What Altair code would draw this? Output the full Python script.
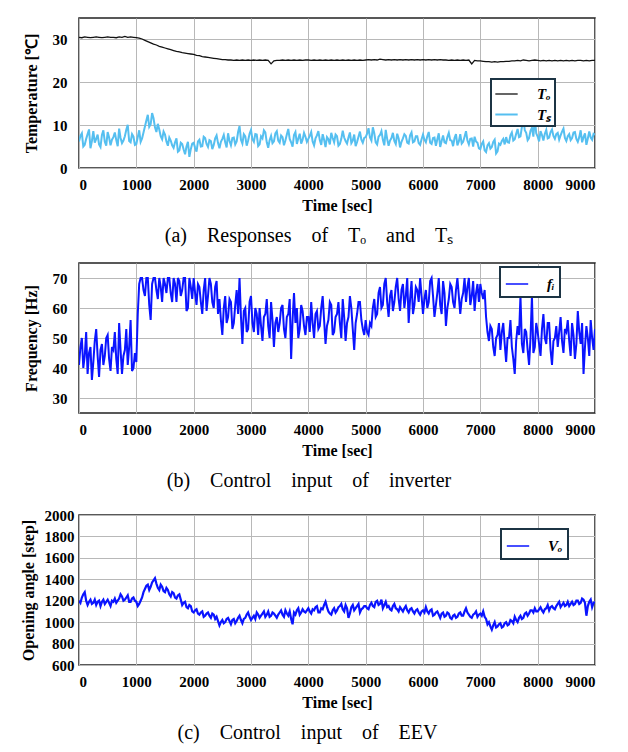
import altair as alt
import pandas as pd

# To is sampled every 50 s, the other three every 25 s
time_slow = list(range(0, 9001, 50))
time_fast = list(range(0, 9001, 25))

to_vals = [
    30.5, 30.4, 30.6, 30.5, 30.4, 30.5, 30.6, 30.5, 30.4, 30.5, 30.6, 30.5, 30.5, 30.4, 30.6, 30.5, 30.7, 30.5, 30.6, 30.5,
    30.4, 30.3, 30.1, 29.8, 29.5, 29.2, 28.9, 28.7, 28.4, 28.2, 28.0, 27.8, 27.6, 27.4, 27.2, 27.1, 26.9, 26.8, 26.7, 26.6,
    26.5, 26.3, 26.2, 26.0, 25.9, 25.8, 25.7, 25.6, 25.5, 25.4, 25.3, 25.3, 25.2, 25.2, 25.1, 25.2, 25.1, 25.2, 25.1, 25.2,
    25.1, 25.2, 25.1, 25.2, 25.1, 25.2, 25.1, 24.3, 25.0, 25.1, 25.1, 25.2, 25.1, 25.2, 25.1, 25.2, 25.1, 25.2, 25.1, 25.2,
    25.2, 25.1, 25.2, 25.1, 25.2, 25.1, 25.2, 25.1, 25.2, 25.1, 25.2, 25.1, 25.2, 25.1, 25.2, 25.1, 25.2, 25.1, 25.2, 25.1,
    25.2, 25.3, 25.2, 25.3, 25.2, 25.4, 25.3, 25.2, 25.3, 25.2, 25.3, 25.2, 25.3, 25.2, 25.3, 25.2, 25.3, 25.2, 25.3, 25.2,
    25.3, 25.2, 25.3, 25.2, 25.3, 25.2, 25.3, 25.2, 25.2, 25.1, 25.2, 25.1, 25.2, 25.1, 25.2, 25.1, 25.2, 24.3, 25.1, 25.0,
    25.0, 24.9, 24.8, 24.8, 24.7, 24.8, 24.7, 24.8, 24.8, 24.9, 24.9, 25.0, 25.0, 25.1, 25.0, 25.2, 25.1, 25.0, 25.1, 25.2,
    25.1, 25.0, 25.1, 25.0, 25.1, 25.0, 25.1, 25.0, 25.1, 25.0, 25.1, 25.0, 25.1, 25.0, 25.1, 25.1, 25.0, 25.1, 25.0, 25.1,
    25.1,
]

ts_vals = [
    6.2, 7.5, 8.1, 5.0, 5.4, 6.8, 7.9, 9.0, 4.6, 6.3, 8.6, 5.9, 6.8, 7.8, 5.5, 4.9, 7.7, 8.8, 6.1, 5.2,
    8.4, 7.1, 5.3, 6.6, 7.2, 8.3, 6.5, 5.1, 9.2, 7.0, 5.8, 6.4, 7.4, 8.9, 10.1, 6.3, 6.0, 7.9, 7.3, 5.4,
    5.6, 7.2, 8.8, 6.1, 6.9, 8.3, 9.7, 11.1, 12.4, 9.6, 10.2, 12.8, 11.6, 9.5, 8.4, 10.3, 9.0, 7.4, 6.7, 8.5,
    7.8, 6.2, 5.2, 7.1, 6.4, 5.3, 4.7, 6.0, 6.9, 3.8, 4.1, 5.9, 5.6, 4.3, 3.2, 5.0, 6.1, 2.6, 4.4, 5.7,
    5.9, 4.7, 3.8, 6.2, 6.6, 5.0, 5.1, 7.3, 7.0, 5.6, 4.9, 6.5, 6.3, 4.4, 5.4, 6.9, 7.6, 5.8, 4.6, 6.1,
    6.8, 7.7, 6.0, 4.8, 8.1, 6.3, 5.3, 7.0, 7.1, 5.5, 6.2, 8.4, 9.8, 6.6, 5.7, 7.9, 7.4, 5.2, 6.4, 8.0,
    8.9, 6.7, 6.1, 7.9, 7.8, 5.1, 5.5, 7.4, 6.9, 8.8, 8.3, 6.0, 4.7, 6.5, 7.5, 5.8, 6.2, 8.1, 8.6, 6.4,
    5.9, 7.6, 7.2, 5.3, 6.4, 7.8, 9.1, 6.8, 6.0, 5.0, 7.7, 8.4, 5.6, 6.9, 8.0, 5.7, 6.6, 8.2, 7.3, 6.1,
    6.8, 7.5, 8.4, 6.2, 5.3, 6.9, 7.6, 8.6, 6.5, 5.4, 7.9, 6.6, 4.9, 7.2, 6.7, 5.5, 8.2, 7.0, 6.0, 7.8,
    7.4, 5.2, 5.6, 6.8, 8.7, 7.1, 6.3, 5.7, 7.1, 8.3, 5.8, 6.4, 7.8, 5.1, 6.1, 7.3, 8.5, 6.6, 5.9, 7.0,
    7.2, 8.0, 9.3, 7.1, 6.4, 9.5, 8.1, 6.0, 5.5, 7.3, 7.7, 8.6, 6.6, 5.3, 8.9, 6.8, 5.2, 6.4, 7.0, 8.2,
    6.3, 5.6, 8.0, 6.9, 4.8, 6.1, 6.9, 7.9, 7.5, 5.9, 5.7, 7.6, 8.3, 6.0, 6.2, 7.4, 7.4, 5.8, 5.4, 6.7,
    7.8, 6.6, 6.0, 7.4, 8.4, 5.9, 5.6, 7.0, 7.1, 5.2, 6.7, 8.1, 4.9, 6.3, 7.6, 6.0, 5.8, 7.2, 8.2, 6.5,
    6.4, 5.1, 7.0, 7.9, 5.3, 6.2, 7.9, 5.7, 6.1, 7.3, 8.6, 6.4, 5.5, 6.8, 6.9, 5.0, 7.3, 6.2, 5.9, 4.6,
    4.4, 5.6, 6.2, 4.1, 3.7, 5.3, 5.8, 4.5, 4.9, 6.1, 6.6, 3.4, 3.9, 5.7, 5.4, 6.3, 6.8, 5.5, 7.2, 6.0,
    5.9, 7.6, 8.3, 6.4, 6.7, 8.0, 9.1, 7.2, 7.4, 9.6, 11.9, 8.8, 8.2, 6.5, 7.0, 8.7, 9.4, 7.3, 11.6, 8.1,
    7.3, 6.2, 8.6, 7.7, 6.4, 8.0, 8.9, 6.9, 7.1, 8.4, 9.0, 7.5, 6.8, 7.9, 8.2, 6.6, 7.6, 8.5, 9.2, 7.0,
    6.3, 7.4, 7.9, 6.5, 7.0, 8.3, 8.4, 6.8, 6.1, 7.2, 8.8, 6.0, 7.2, 8.1, 5.4, 6.9, 8.5, 7.1, 6.6, 8.0,
    7.8,
]

fi_vals = [
    41, 47, 50, 40, 44, 52, 38, 45, 47, 36, 42, 49, 53, 44, 37, 46, 48, 41, 44, 50,
    51, 43, 39, 47, 46, 52, 43, 38, 55, 46, 38, 44, 46, 53, 41, 47, 56, 39, 40, 45,
    42, 58, 68, 70, 70, 66, 64, 70, 70, 61, 56, 68, 70, 70, 66, 63, 70, 67, 62, 70,
    68, 65, 70, 70, 65, 62, 70, 68, 62, 70, 69, 64, 66, 70, 70, 59, 60, 70, 67, 63,
    70, 65, 61, 68, 67, 62, 58, 66, 70, 59, 64, 70, 68, 62, 60, 67, 69, 58, 63, 56,
    51, 60, 64, 55, 57, 63, 62, 53, 55, 61, 66, 58, 70, 57, 48, 59, 60, 52, 53, 62,
    64, 55, 52, 60, 58, 51, 60, 54, 49, 57, 58, 63, 54, 50, 62, 56, 47, 55, 57, 52,
    55, 60, 61, 53, 50, 57, 58, 63, 43, 56, 65, 55, 60, 50, 53, 61, 59, 54, 51, 57,
    57, 52, 62, 55, 50, 58, 59, 53, 54, 60, 64, 56, 48, 54, 56, 62, 61, 51, 52, 57,
    58, 62, 55, 50, 63, 57, 49, 55, 57, 64, 60, 53, 46, 55, 58, 62, 62, 56, 53, 51,
    56, 52, 51, 55, 54, 60, 63, 57, 58, 65, 67, 60, 61, 68, 70, 62, 57, 64, 66, 59,
    62, 67, 70, 63, 59, 66, 68, 60, 64, 70, 55, 63, 69, 58, 61, 67, 66, 62, 70, 64,
    58, 63, 66, 60, 62, 69, 70, 64, 57, 61, 65, 70, 61, 58, 69, 65, 54, 60, 63, 68,
    67, 62, 60, 66, 70, 64, 58, 63, 65, 70, 62, 67, 70, 61, 64, 69, 59, 65, 68, 62,
    68, 65, 63, 66, 57, 52, 49, 54, 53, 47, 44, 50, 51, 55, 46, 52, 55, 48, 42, 50,
    50, 56, 47, 43, 38, 49, 54, 51, 64, 48, 45, 53, 52, 46, 41, 50, 64, 45, 47, 55,
    52, 48, 44, 53, 58, 50, 48, 55, 55, 46, 41, 49, 50, 54, 47, 52, 57, 49, 45, 53,
    52, 56, 49, 44, 55, 51, 43, 48, 59, 52, 48, 55, 38, 47, 54, 50, 44, 56, 50, 46,
    53,
]

vo_vals = [
    1200, 1180, 1230, 1260, 1280, 1200, 1160, 1190, 1210, 1170, 1180, 1210, 1160, 1190, 1200, 1150, 1190, 1210, 1170, 1190,
    1210, 1180, 1150, 1200, 1190, 1220, 1180, 1200, 1220, 1260, 1240, 1200, 1210, 1230, 1250, 1190, 1190, 1220, 1230, 1200,
    1190, 1150, 1170, 1200, 1230, 1280, 1310, 1340, 1350, 1300, 1330, 1370, 1390, 1410, 1360, 1320, 1300, 1350, 1330, 1290,
    1280, 1320, 1300, 1260, 1240, 1280, 1270, 1230, 1220, 1250, 1260, 1210, 1160, 1180, 1190, 1140, 1130, 1160, 1150, 1100,
    1090, 1110, 1120, 1080, 1070, 1090, 1100, 1050, 1060, 1080, 1090, 1060, 1040, 1080, 1070, 1030, 1050, 1010, 970, 1000,
    1020, 990, 1000, 1030, 1040, 1010, 980, 1020, 1030, 990, 1010, 1040, 1060, 1020, 990, 1030, 1040, 1070, 1090, 1050,
    1020, 1040, 1060, 1030, 1090, 1070, 1040, 1060, 1080, 1100, 1050, 1070, 1100, 1050, 1060, 1090, 1080, 1060, 1040, 1070,
    1090, 1110, 1070, 1050, 1110, 1080, 1060, 1100, 1030, 980, 1090, 1070, 1110, 1130, 1070, 1090, 1120, 1100, 1090, 1110,
    1130, 1100, 1080, 1120, 1110, 1140, 1150, 1090, 1090, 1130, 1120, 1160, 1190, 1140, 1100, 1080, 1070, 1110, 1130, 1090,
    1110, 1140, 1150, 1170, 1120, 1100, 1160, 1130, 1040, 1080, 1140, 1160, 1110, 1130, 1150, 1170, 1090, 1120, 1130, 1150,
    1150, 1130, 1120, 1160, 1180, 1150, 1140, 1190, 1200, 1160, 1170, 1210, 1130, 1160, 1190, 1140, 1150, 1120, 1110, 1150,
    1170, 1130, 1120, 1100, 1140, 1120, 1100, 1130, 1150, 1110, 1090, 1120, 1130, 1100, 1080, 1110, 1120, 1090, 1070, 1100,
    1110, 1090, 1140, 1100, 1080, 1110, 1120, 1060, 1070, 1090, 1100, 1070, 1040, 1080, 1090, 1050, 1060, 1090, 1080, 1040,
    1030, 1060, 1070, 1040, 1050, 1080, 1090, 1060, 1060, 1100, 1130, 1090, 1070, 1050, 1040, 1070, 1080, 1100, 1050, 1070,
    1080, 1060, 1100, 1050, 1030, 980, 1000, 960, 930, 970, 1000, 950, 960, 980, 990, 950, 960, 990, 1000, 970,
    980, 1020, 1010, 990, 1050, 1020, 1000, 1040, 1060, 1030, 1040, 1080, 1090, 1060, 1080, 1110, 1110, 1090, 1130, 1100,
    1100, 1120, 1140, 1110, 1090, 1120, 1130, 1160, 1110, 1140, 1150, 1130, 1120, 1150, 1170, 1190, 1140, 1160, 1180, 1150,
    1160, 1190, 1150, 1170, 1190, 1160, 1170, 1200, 1200, 1170, 1180, 1220, 1210, 1180, 1060, 1150, 1190, 1210, 1140, 1180,
    1190,
]

SERIF = "Liberation Serif"
SP = "\u00a0" * 4


def long_df(series):
    rows = []
    for name, times, vals in series:
        for t, v in zip(times, vals):
            rows.append({"time": t, "value": v, "series": name})
    return pd.DataFrame(rows)


def panel(series, colors, widths, ydomain, yticks, ytitle, leg_xy, leg_pad, caption, lab_pad, tit_pad):
    names = [s[0] for s in series]
    leg = dict(
        orient="none", legendX=leg_xy[0], legendY=leg_xy[1], title=None,
        symbolType="stroke", symbolSize=500, padding=leg_pad, rowPadding=-9,
        labelFont=SERIF, labelFontSize=15, labelFontWeight="bold", labelFontStyle="italic",
        labelOffset=18, labelExpr="datum.label + '" + "\u00a0" * 8 + "'",
        fillColor="white", strokeColor="#1c3444",
    )
    enc = dict(
        x=alt.X("time:Q", scale=alt.Scale(domain=[0, 9000], nice=False),
                axis=alt.Axis(values=list(range(0, 9001, 1000)), format="d", title="Time [sec]",
                              labelPadding=9, titlePadding=5)),
        y=alt.Y("value:Q", scale=alt.Scale(domain=ydomain, nice=False),
                axis=alt.Axis(values=yticks, format="d", title=ytitle,
                              labelPadding=lab_pad, titlePadding=tit_pad)),
        color=alt.Color("series:N", scale=alt.Scale(domain=names, range=colors), legend=alt.Legend(**leg)),
    )
    if len(names) > 1:
        enc["strokeWidth"] = alt.StrokeWidth("series:N", scale=alt.Scale(domain=names, range=widths),
                                             legend=alt.Legend(**leg))
        mark = alt.Chart(long_df(series)).mark_line(clip=True)
    else:
        mark = alt.Chart(long_df(series)).mark_line(clip=True, strokeWidth=widths[0])
    return mark.encode(**enc).properties(
        width=516, height=150,
        title=alt.TitleParams(caption, orient="bottom", frame="bounds", anchor="middle", offset=13),
    )


pa = panel([("Tₒ", time_slow, to_vals), ("Tₛ", time_fast, ts_vals)], ["#111111", "#55bff0"], [1.3, 2.0],
           [0, 35], [0, 10, 20, 30], "Temperature [℃]", (412, 61), 3,
           SP.join(["(a)", "Responses", "of", "Tₒ", "and", "Tₛ"]), 12, 13)
pb = panel([("fᵢ", time_fast, fi_vals)], ["#0a14ff"], [2.0],
           [25, 75], [30, 40, 50, 60, 70], "Frequency [Hz]", (421, 4), 5,
           SP.join(["(b)", "Control", "input", "of", "inverter"]), 12, 13)
pc = panel([("Vₒ", time_fast, vo_vals)], ["#0a14ff"], [2.2],
           [600, 2000], list(range(600, 2001, 200)), "Opening angle [step]", (422, 14), 5,
           SP.join(["(c)", "Control", "input", "of", "EEV"]), 5, 8)

chart = (
    alt.vconcat(pa, pb, pc, spacing=15)
    .resolve_scale(color="independent", strokeWidth="independent")
    .resolve_legend(color="independent", strokeWidth="independent")
    .properties(padding={"top": 9, "left": 11, "right": 5, "bottom": 3})
    .configure_view(stroke="#222222", strokeWidth=1.5)
    .configure_axis(
        grid=True, gridColor="#b8b8b8", gridWidth=1, domain=False, ticks=False,
        labelFont=SERIF, labelFontSize=15, labelFontWeight="bold", labelColor="black",
        titleFont=SERIF, titleFontSize=16, titleFontWeight="bold", titleColor="black",
    )
    .configure_legend(strokeWidth=2)
    .configure_title(font=SERIF, fontSize=20, fontWeight="normal", color="black")
)

chart.save("out.html", embed_options={"renderer": "svg", "actions": False})
